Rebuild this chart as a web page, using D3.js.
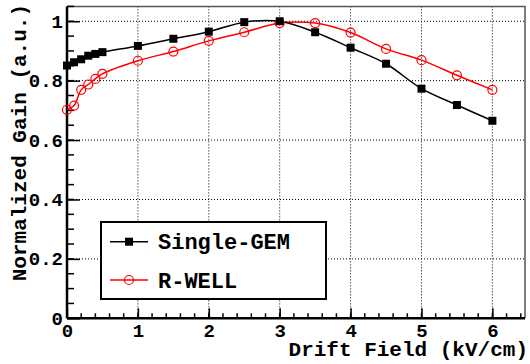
<!DOCTYPE html>
<html>
<head>
<meta charset="utf-8">
<script src="https://cdn.jsdelivr.net/npm/d3@7"></script>
<style>
  body { margin: 0; background: #fff; }
  text { font-family: "Liberation Mono", "DejaVu Sans Mono", monospace; font-weight: bold; }
</style>
</head>
<body>
<div id="chart"></div>
<script>
var field = [0, 0.1, 0.2, 0.3, 0.4, 0.5, 1, 1.5, 2, 2.5, 3, 3.5, 4, 4.5, 5, 5.5, 6];
var gemGain = [0.851, 0.862, 0.872, 0.884, 0.890, 0.896, 0.917, 0.941, 0.965, 0.997, 1.0, 0.963, 0.911, 0.857, 0.773, 0.718, 0.665];
var rwellGain = [0.702, 0.716, 0.769, 0.787, 0.806, 0.823, 0.867, 0.898, 0.934, 0.963, 0.994, 0.994, 0.962, 0.907, 0.869, 0.818, 0.769];
var xTicks = [0, 1, 2, 3, 4, 5, 6];
var yTicks = [0, 0.2, 0.4, 0.6, 0.8, 1];
var seriesNames = ["Single-GEM", "R-WELL"];

var w = 530, h = 364;
var pLeft = 67, pRight = 525, pTop = 6.4, pBottom = 318.3;

var svg = d3.select("body div#chart").append("svg")
    .attr("width", w)
    .attr("height", h);

var x = d3.scaleLinear().domain([0, 6.46]).range([pLeft, pRight]);
var y = d3.scaleLinear().domain([0, 1.05]).range([pBottom, pTop]);

// grid
svg.append("g").selectAll("line").data(xTicks.slice(1)).enter().append("line")
  .attr("x1", function(d) { return x(d); }).attr("x2", function(d) { return x(d); })
  .attr("y1", pTop).attr("y2", pBottom)
  .attr("stroke", "#000").attr("stroke-width", 1).attr("stroke-dasharray", "1,2");
svg.append("g").selectAll("line").data(yTicks.slice(1)).enter().append("line")
  .attr("x1", pLeft).attr("x2", pRight)
  .attr("y1", function(d) { return y(d); }).attr("y2", function(d) { return y(d); })
  .attr("stroke", "#000").attr("stroke-width", 1).attr("stroke-dasharray", "1,2");

// frame top/right
svg.append("path")
  .attr("d", "M" + pLeft + "," + pTop + "H" + pRight + "V" + pBottom)
  .attr("fill", "none").attr("stroke", "#555").attr("stroke-width", 1.5);

// x axis
var xAxis = d3.axisBottom(x).tickValues(xTicks).tickSize(-10).tickPadding(5).tickFormat(d3.format("d"));
var gx = svg.append("g").attr("transform", "translate(0," + pBottom + ")").call(xAxis);
gx.selectAll(".tick line").attr("stroke-width", 1.5);
gx.select(".domain").attr("stroke-width", 2.5).attr("d", "M" + pLeft + ",0H" + pRight);
gx.selectAll("text").attr("font-size", 19).attr("fill", "#000").attr("font-family", null);
gx.append("g").selectAll("line").data(d3.range(0, 6.41, 0.2)).enter().append("line")
  .attr("x1", function(d) { return x(d); }).attr("x2", function(d) { return x(d); })
  .attr("y1", 0).attr("y2", -5).attr("stroke", "#000").attr("stroke-width", 1.5);

// y axis
var yAxis = d3.axisLeft(y).tickValues(yTicks).tickSize(-13).tickPadding(4)
  .tickFormat(function(d) { return d === 0 || d === 1 ? d3.format("d")(d) : d3.format(".1f")(d); });
var gy = svg.append("g").attr("transform", "translate(" + pLeft + ",0)").call(yAxis);
gy.selectAll(".tick line").attr("stroke-width", 1.5);
gy.select(".domain").attr("stroke-width", 2.5).attr("d", "M0," + pTop + "V" + pBottom);
gy.selectAll("text").attr("font-size", 19).attr("fill", "#000").attr("font-family", null);
gy.append("g").selectAll("line").data(d3.range(0, 1.051, 0.05)).enter().append("line")
  .attr("x1", 0).attr("x2", 7)
  .attr("y1", function(d) { return y(d); }).attr("y2", function(d) { return y(d); })
  .attr("stroke", "#000").attr("stroke-width", 1.5);

// titles
svg.append("text").attr("x", 528).attr("y", 356).attr("text-anchor", "end")
  .attr("font-size", 21).text("Drift Field (kV/cm)");
svg.append("text").attr("transform", "translate(26,4) rotate(-90)").attr("text-anchor", "end")
  .attr("font-size", 21).text("Normalized Gain (a.u.)");

// series
var line = d3.line().curve(d3.curveCatmullRom)
  .x(function(d) { return x(d[0]); })
  .y(function(d) { return y(d[1]); });

var gemData = d3.zip(field, gemGain);
var rwellData = d3.zip(field, rwellGain);

svg.append("path").datum(rwellData).attr("d", line)
  .attr("fill", "none").attr("stroke", "#ff0000").attr("stroke-width", 1.5);
svg.append("path").datum(gemData).attr("d", line)
  .attr("fill", "none").attr("stroke", "#000").attr("stroke-width", 1.5);

svg.append("g").selectAll("circle").data(rwellData).enter().append("circle")
  .attr("cx", function(d) { return x(d[0]); })
  .attr("cy", function(d) { return y(d[1]); })
  .attr("r", 4.5).attr("fill", "none").attr("stroke", "#ff0000").attr("stroke-width", 1.2);
svg.append("g").selectAll("rect").data(gemData).enter().append("rect")
  .attr("x", function(d) { return x(d[0]) - 4; })
  .attr("y", function(d) { return y(d[1]) - 4; })
  .attr("width", 8).attr("height", 8).attr("fill", "#000");

// legend
var lg = svg.append("g");
lg.append("rect").attr("x", 101).attr("y", 222).attr("width", 225).attr("height", 77)
  .attr("fill", "#fff").attr("stroke", "#000").attr("stroke-width", 2);
var legendRows = [
  { name: seriesNames[0], color: "#000", marker: "square", y: 241.7 },
  { name: seriesNames[1], color: "#ff0000", marker: "circle", y: 280 }
];
legendRows.forEach(function(r) {
  lg.append("line").attr("x1", 110).attr("x2", 148).attr("y1", r.y).attr("y2", r.y)
    .attr("stroke", r.color).attr("stroke-width", 1.5);
  if (r.marker == "square") {
    lg.append("rect").attr("x", 125).attr("y", r.y - 4).attr("width", 8).attr("height", 8).attr("fill", r.color);
  } else {
    lg.append("circle").attr("cx", 129).attr("cy", r.y).attr("r", 4.5)
      .attr("fill", "none").attr("stroke", r.color).attr("stroke-width", 1.2);
  }
  lg.append("text").attr("x", 158).attr("y", r.y).attr("dy", "0.35em")
    .attr("font-size", 22).text(r.name);
});
</script>
</body>
</html>
